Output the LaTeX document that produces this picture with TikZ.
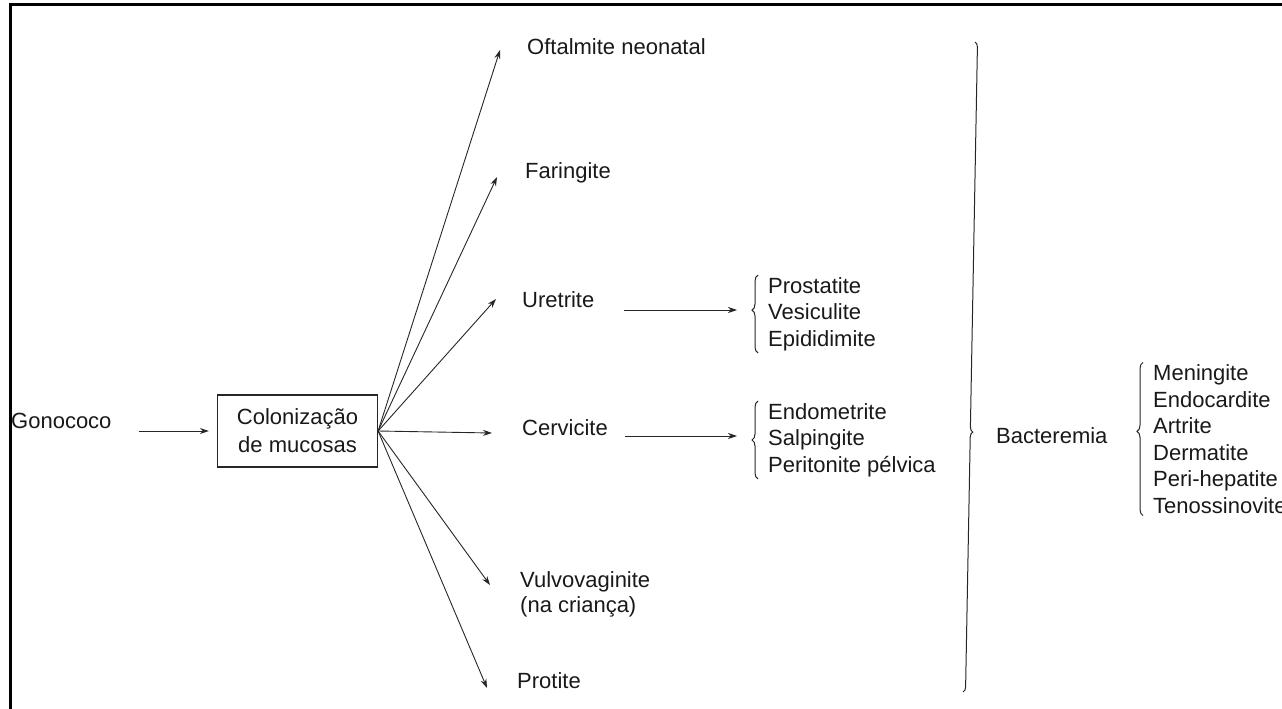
\documentclass[tikz,border=0pt]{standalone}
\usepackage{fontspec}
\setmainfont{Liberation Sans}
\usetikzlibrary{arrows.meta,decorations.pathreplacing}
\begin{document}
\begin{tikzpicture}[x=1pt,y=-1pt,
  lbl/.style={anchor=west,inner sep=0pt,font=\fontsize{22}{26.5}\selectfont,text=black!90},
  lst/.style={lbl,align=left},
  arr/.style={draw=black!85,line width=0.9pt,-{Stealth[length=9pt,width=6pt]}},
  brc/.style={draw=black!85,line width=1pt,decorate,decoration={brace,amplitude=6pt}},
  boxst/.style={draw=black!85,line width=1.2pt,inner sep=0pt,minimum width=160pt,minimum height=72pt,align=center,font=\fontsize{22}{28}\selectfont,text=black!90}
]
\useasboundingbox (0,0) rectangle (1282,709);
\draw[line width=2.6pt] (10.5,712) -- (10.5,4.5) -- (1285,4.5);

\node[lbl] (gono) at (11,421) {Gonococo};
\node[boxst] (box) at (297.5,431) {Colonização\\de mucosas};
\draw[arr] ([xshift=27pt]gono.east |- box.west) -- ([xshift=-8pt]box.west);

\node[lbl] (oft) at (527,47) {Oftalmite neonatal};
\node[lbl] (far) at (525,173) {Faringite};
\node[lbl] (ure) at (522,300) {Uretrite};
\node[lbl] (cer) at (522,428) {Cervicite};
\node[lbl] (vul) at (520,582) {Vulvovaginite};
\node[lbl] (vul2) at (520,607) {(na criança)};
\node[lbl] (pro) at (517,681) {Protite};

\coordinate (fan) at (box.east);
\draw[arr] (fan) -- ([xshift=-27pt,yshift=-3pt]oft.west);
\draw[arr] (fan) -- ([xshift=-28pt,yshift=-4pt]far.west);
\draw[arr] (fan) -- ([xshift=-26pt,yshift=1pt]ure.west);
\draw[arr] (fan) -- ([xshift=-30pt,yshift=-5pt]cer.west);
\draw[arr] (fan) -- ([xshift=-30pt,yshift=-3pt]vul.west);
\draw[arr] (fan) -- ([xshift=-30pt,yshift=-7pt]pro.west);

\node[lst] (plist) at (768,314) {Prostatite\\Vesiculite\\Epididimite};
\node[lst] (elist) at (768,440) {Endometrite\\Salpingite\\Peritonite pélvica};
\coordinate (ua) at ([xshift=29pt,yshift=-10pt]ure.east);
\coordinate (ca) at ([xshift=17pt,yshift=-8pt]cer.east);
\draw[arr] (ua) -- ([xshift=-31pt]ua -| plist.west);
\draw[arr] (ca) -- ([xshift=-31pt]ca -| elist.west);
\draw[brc,decoration={aspect=0.55}] ([xshift=-10pt,yshift=-2pt]plist.south west) -- ([xshift=-10pt,yshift=2pt]plist.north west);
\draw[brc,decoration={aspect=0.5}] ([xshift=-10pt,yshift=-2pt]elist.south west) -- ([xshift=-10pt,yshift=2pt]elist.north west);

\draw[brc,decoration={aspect=0.6,amplitude=5pt}] (975,42) -- (963,692);
\node[lbl] (bac) at (996,436) {Bacteremia};

\node[lst] (mlist) at (1153,439) {Meningite\\Endocardite\\Artrite\\Dermatite\\Peri-hepatite\\Tenossinovite};
\draw[brc,decoration={aspect=0.55}] ([xshift=-10pt,yshift=-2pt]mlist.south west) -- ([xshift=-10pt,yshift=2pt]mlist.north west);
\end{tikzpicture}
\end{document}
